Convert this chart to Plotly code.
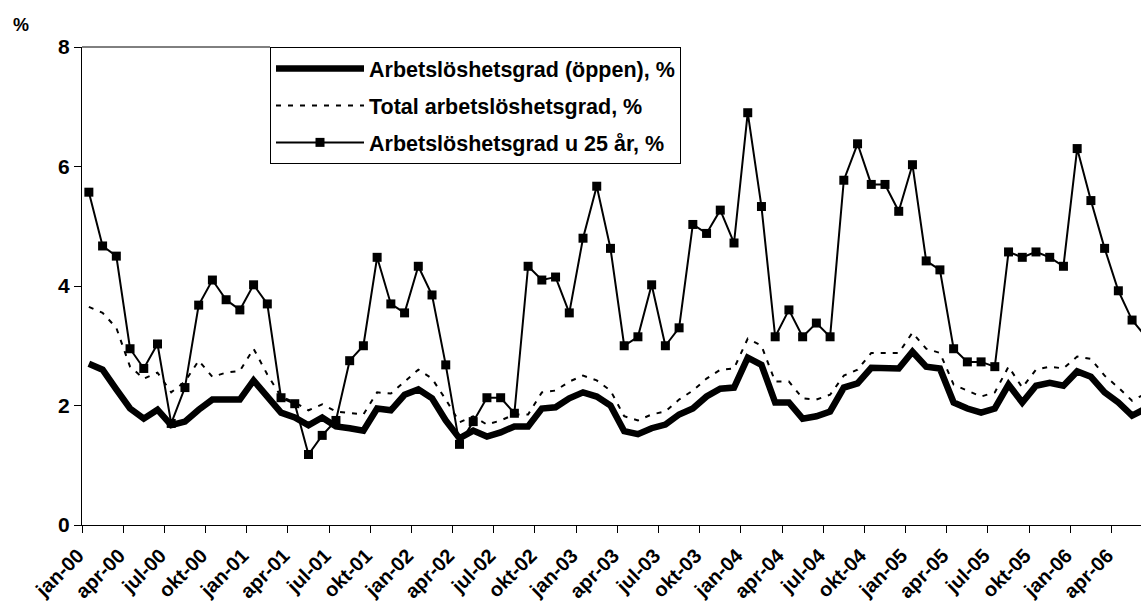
import plotly.graph_objects as go

# Monthly data jan-00 .. jun-06
open_rate = [2.70, 2.60, 2.27, 1.95, 1.78, 1.93, 1.67, 1.73, 1.93, 2.10, 2.10, 2.10,
             2.42, 2.15, 1.88, 1.80, 1.67, 1.80, 1.65, 1.62, 1.58, 1.95, 1.92, 2.18,
             2.27, 2.12, 1.75, 1.45, 1.58, 1.48, 1.55, 1.65, 1.65, 1.95, 1.97, 2.12,
             2.22, 2.15, 2.00, 1.57, 1.52, 1.62, 1.68, 1.85, 1.95, 2.15, 2.28, 2.30,
             2.80, 2.68, 2.05, 2.05, 1.78, 1.82, 1.90, 2.30, 2.37, 2.63, 2.63, 2.62,
             2.90, 2.65, 2.62, 2.05, 1.95, 1.88, 1.95, 2.35, 2.05, 2.33, 2.38, 2.33,
             2.57, 2.48, 2.22, 2.05, 1.83, 1.95]
total_rate = [3.65, 3.55, 3.30, 2.65, 2.45, 2.55, 2.22, 2.40, 2.75, 2.48, 2.55, 2.58,
              2.95, 2.52, 2.15, 2.05, 1.92, 2.02, 1.90, 1.88, 1.85, 2.22, 2.20, 2.40,
              2.60, 2.45, 2.10, 1.72, 1.82, 1.68, 1.75, 1.85, 1.85, 2.22, 2.25, 2.40,
              2.50, 2.42, 2.25, 1.82, 1.75, 1.85, 1.90, 2.10, 2.25, 2.45, 2.60, 2.62,
              3.12, 3.00, 2.40, 2.40, 2.12, 2.10, 2.18, 2.50, 2.60, 2.88, 2.88, 2.88,
              3.22, 2.95, 2.88, 2.35, 2.25, 2.15, 2.22, 2.65, 2.30, 2.60, 2.65, 2.62,
              2.82, 2.78, 2.50, 2.30, 2.08, 2.20]
youth_rate = [5.57, 4.67, 4.50, 2.95, 2.62, 3.03, 1.70, 2.30, 3.68, 4.10, 3.77, 3.60,
              4.02, 3.70, 2.13, 2.03, 1.18, 1.50, 1.75, 2.75, 3.00, 4.48, 3.70, 3.55,
              4.33, 3.85, 2.68, 1.35, 1.73, 2.13, 2.13, 1.87, 4.33, 4.10, 4.15, 3.55,
              4.80, 5.67, 4.63, 3.00, 3.15, 4.02, 3.00, 3.30, 5.03, 4.88, 5.27, 4.72,
              6.90, 5.33, 3.15, 3.60, 3.15, 3.38, 3.15, 5.77, 6.38, 5.70, 5.70, 5.25,
              6.03, 4.42, 4.27, 2.95, 2.73, 2.73, 2.65, 4.57, 4.48, 4.57, 4.48, 4.33,
              6.30, 5.43, 4.63, 3.92, 3.43, 3.15]

tick_labels = ["jan-00", "apr-00", "jul-00", "okt-00", "jan-01", "apr-01", "jul-01", "okt-01",
               "jan-02", "apr-02", "jul-02", "okt-02", "jan-03", "apr-03", "jul-03", "okt-03",
               "jan-04", "apr-04", "jul-04", "okt-04", "jan-05", "apr-05", "jul-05", "okt-05",
               "jan-06", "apr-06"]
y_ticks = [0, 2, 4, 6, 8]

x = list(range(len(open_rate)))
tick_pos = [i * 3 - 0.5 for i in range(len(tick_labels))]

FONT = "Liberation Sans, Arial, sans-serif"
W, H = 1141, 606
ML, MR, MT, MB = 82, 0, 47, 81
PW, PH = W - ML - MR, H - MT - MB

fig = go.Figure()
fig.add_trace(go.Scatter(x=x, y=open_rate, mode="lines", name="<b>Arbetslöshetsgrad (öppen), %</b>",
                         line=dict(color="black", width=6.5), legendgroup="a"))
fig.add_trace(go.Scatter(x=x, y=total_rate, mode="lines", name="<b>Total arbetslöshetsgrad, %</b>",
                         line=dict(color="black", width=2, dash="5px,7px"), legendgroup="b"))
fig.add_trace(go.Scatter(x=x, y=youth_rate, mode="lines+markers", name="<b>Arbetslöshetsgrad u 25 år, %</b>",
                         line=dict(color="black", width=2),
                         marker=dict(symbol="square", size=9, color="black"), legendgroup="c"))

legend_x = (270 - ML) / PW

fig.update_layout(
    width=W, height=H,
    margin=dict(l=ML, r=MR, t=MT, b=MB),
    paper_bgcolor="white", plot_bgcolor="white",
    font=dict(family=FONT, color="black"),
    showlegend=True,
    legend=dict(x=legend_x, y=1.0, xanchor="left", yanchor="top",
                bordercolor="black", borderwidth=1, bgcolor="white",
                font=dict(size=21.5, family=FONT, color="black"),
                itemwidth=88, traceorder="grouped", tracegroupgap=6),
    xaxis=dict(range=[-0.5, 76.65], tickmode="array", tickvals=tick_pos,
               ticktext=[f"<b>{t}</b>" for t in tick_labels],
               tickangle=-45, ticks="outside", ticklen=7, tickcolor="black",
               ticklabelstandoff=3, ticklabelshift=-4,
               showline=True, linecolor="black", linewidth=1, showgrid=False, zeroline=False,
               automargin=False,
               tickfont=dict(size=20, family=FONT, color="black")),
    yaxis=dict(range=[0, 8], tickmode="array", tickvals=y_ticks,
               ticktext=[f"<b>{v}</b>" for v in y_ticks],
               ticks="outside", ticklen=7, tickcolor="black",
               showline=True, linecolor="black", linewidth=1, showgrid=False, zeroline=False,
               automargin=False,
               tickfont=dict(size=21, family=FONT, color="black")),
    annotations=[dict(text="<b>%</b>", x=(21 - ML) / PW, y=1 + (MT - 25) / PH,
                      xref="paper", yref="paper", showarrow=False,
                      xanchor="center", yanchor="middle",
                      font=dict(size=18, family=FONT))],
)
# top border segment from the y axis to the legend
fig.add_shape(type="line", xref="paper", yref="paper", x0=0, x1=legend_x, y0=1, y1=1,
              line=dict(color="black", width=1))

fig.write_html("out.html", config={"displayModeBar": False})

# remove default page margin so the figure sits at the window origin
with open("out.html", "r", encoding="utf-8") as f:
    html = f.read()
html = html.replace("<body>", '<body style="margin:0;padding:0;overflow:hidden">', 1)
html = html.replace("<head>", "<head><style>html,body{margin:0;padding:0;overflow:hidden}</style>", 1)
with open("out.html", "w", encoding="utf-8") as f:
    f.write(html)
